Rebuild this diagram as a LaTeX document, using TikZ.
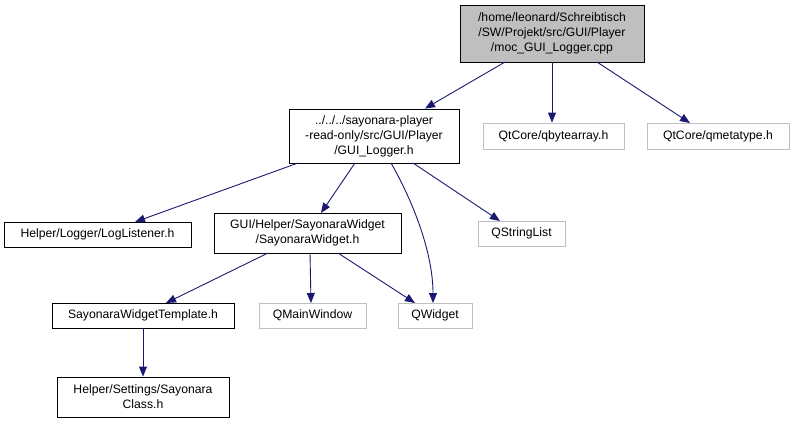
\documentclass[tikz,border=0pt]{standalone}
\usepackage{fontspec}
\setmainfont{Liberation Sans}
\usetikzlibrary{arrows.meta}
\definecolor{edgec}{HTML}{191970}
\definecolor{greyb}{HTML}{BFBFBF}
\begin{document}
\begin{tikzpicture}[x=1pt,y=-1pt,
  box/.style={draw=black,line width=0.9pt,fill=white,inner sep=0pt,align=center,font=\fontsize{12.2}{15}\selectfont},
  gbox/.style={box,draw=greyb},
  edge/.style={draw=edgec,line width=0.9pt,-{Triangle[length=10pt,width=8pt]}}]
\useasboundingbox (0,0) rectangle (793,424);
\node[box,fill=greyb,minimum width=184pt,minimum height=57pt] (top) at (552,33.5) {/home/leonard/Schreibtisch\\/SW/Projekt/src/GUI/Player\\/moc\_GUI\_Logger.cpp};
\node[box,minimum width=170pt,minimum height=54pt] (gl) at (374,136) {../../../sayonara-player\\-read-only/src/GUI/Player\\/GUI\_Logger.h};
\node[gbox,minimum width=141pt,minimum height=26pt] (qba) at (553.5,136) {QtCore/qbytearray.h};
\node[gbox,minimum width=142pt,minimum height=26pt] (qmt) at (718,136) {QtCore/qmetatype.h};
\node[box,minimum width=187pt,minimum height=25pt] (ll) at (97.5,234.5) {Helper/Logger/LogListener.h};
\node[box,minimum width=187pt,minimum height=40pt] (sw) at (307.5,233) {GUI/Helper/SayonaraWidget\\/SayonaraWidget.h};
\node[gbox,minimum width=87pt,minimum height=25pt] (qsl) at (521.5,233.5) {QStringList};
\node[box,minimum width=182pt,minimum height=25pt] (swt) at (143,315.5) {SayonaraWidgetTemplate.h};
\node[gbox,minimum width=107pt,minimum height=25pt] (qmw) at (312.5,315.5) {QMainWindow};
\node[gbox,minimum width=74pt,minimum height=25pt] (qw) at (435,315.5) {QWidget};
\node[box,minimum width=172pt,minimum height=40pt] (sc) at (143,397) {Helper/Settings/Sayonara\\Class.h};
\draw[edge] (505,62) -- (gl.north -| 425,0);
\draw[edge] (552,62) -- (qba.north -| 552,0);
\draw[edge] (597,62) -- (690,123);
\draw[edge] (298,163) -- (135,222);
\draw[edge] (355,163) -- (321,213);
\draw[edge] (391,163) .. controls (415,205) and (433,255) .. (433,303);
\draw[edge] (413,163) -- (500,221);
\draw[edge] (268,253) -- (166,303);
\draw[edge] (310,253) -- (311,303);
\draw[edge] (338,253) -- (415,303);
\draw[edge] (swt.south) -- (sc.north);
\end{tikzpicture}
\end{document}
